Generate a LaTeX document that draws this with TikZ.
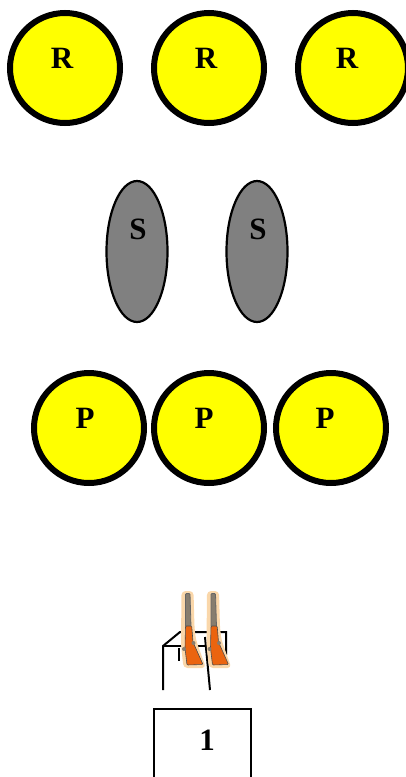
\documentclass[tikz,border=0pt]{standalone}
\usepackage{fontspec}
\setmainfont{Liberation Serif}
\usepackage{tikz}
\usetikzlibrary{positioning}
\usetikzlibrary{shapes.geometric}
\definecolor{myyellow}{RGB}{255,255,0}
\definecolor{mygray}{RGB}{128,128,128}
\definecolor{myorange}{RGB}{235,100,15}
\definecolor{myglow}{RGB}{250,215,170}
\definecolor{mybarrel}{RGB}{135,125,110}
\tikzset{
	ball/.style={fill=myyellow,circle,draw=black,line width=6pt,minimum size=110pt,inner sep=0pt},
	seed/.style={fill=mygray,ellipse,draw=black,line width=2.2pt,minimum width=61pt,minimum height=141pt,inner sep=0pt},
	tag/.style={font=\fontsize{31}{31}\selectfont\bfseries,inner sep=0pt},
	bench/.style={draw=black,line width=2pt}
}
\begin{document}
\begin{tikzpicture}[x=1pt,y=-1pt]
	\useasboundingbox (0,0) rectangle (406,777);

	% top row
	\node[ball] (R1) at (65,68) {};
	\node[ball] (R2) at (209,68) {};
	\node[ball] (R3) at (353,68) {};
	\node[tag] (r1) at (62,58) {R};
	\node[tag] (r2) at (206,58) {R};
	\node[tag] (r3) at (347,58) {R};

	% middle row
	\node[seed] (S1) at (137,251.5) {};
	\node[seed] (S2) at (257,251.5) {};
	\node[tag] (s1) at (138,229) {S};
	\node[tag] (s2) at (258,229) {S};

	% bottom row
	\node[ball] (P1) at (89,428) {};
	\node[ball] (P2) at (209,428) {};
	\node[ball] (P3) at (331,428) {};
	\node[tag] (p1) at (85,418) {P};
	\node[tag] (p2) at (204,418) {P};
	\node[tag] (p3) at (325,418) {P};

	% table
	\draw[bench] (163,690) -- (163,646) -- (180,632) -- (226,632) -- (226,655);
	\draw[bench] (163,646) -- (206,646);
	\draw[bench] (179,648) -- (179,661);
	\draw[bench] (205,637) -- (210,690);

	% rifles
	\foreach \dx in {0,25.5} {
		\begin{scope}[xshift=\dx]
			\fill[myglow,rounded corners=4pt] (181.5,591) -- (193.5,591) -- (194.5,628) -- (196,640) -- (206,668) -- (183.5,668) -- (181,645) -- cycle;
			\fill[mybarrel,draw=black!60,line width=0.8pt,rounded corners=1pt] (185.5,593.5) -- (190,593.5) -- (191,627) -- (185.5,627) -- cycle;
			\fill[myorange,draw=black!70,line width=0.6pt,rounded corners=1pt] (185.5,626) -- (191.7,626) -- (193,642) -- (203,664.5) -- (187,665) -- (185,648) -- cycle;
			\fill[mybarrel] (184,649) circle (2pt) (193.5,643) circle (2pt);
		\end{scope}
	}

	% box
	\draw[line width=2pt] (154,777) -- (154,709) -- (251,709) -- (251,777);
	\node[tag] (n1) at (207,740) {1};
\end{tikzpicture}
\end{document}
